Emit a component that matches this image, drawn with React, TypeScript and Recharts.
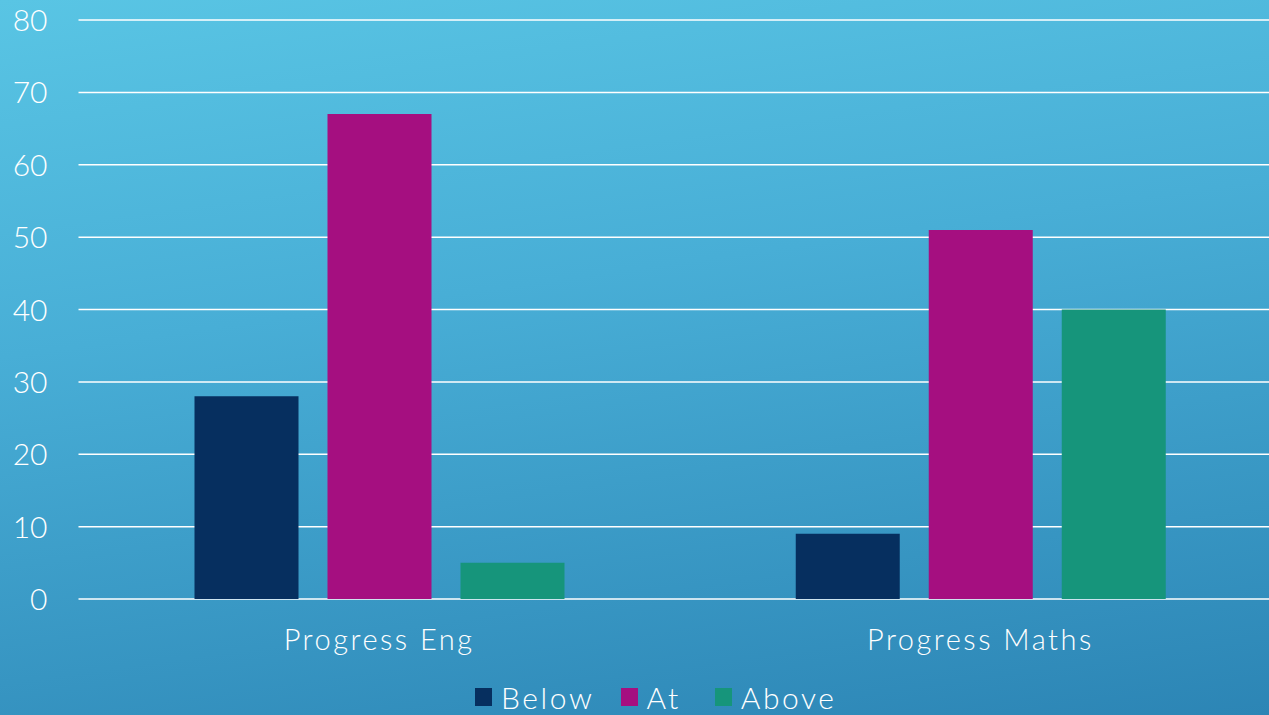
import React from 'react';
import { BarChart, Bar, XAxis, YAxis, CartesianGrid, Legend } from 'recharts';

const categories = ['Progress Eng', 'Progress Maths'];
const below = [28, 9];
const at = [67, 51];
const above = [5, 40];
const yTicks = [0, 10, 20, 30, 40, 50, 60, 70, 80];
const seriesNames = ['Below', 'At', 'Above'];

const data = categories.map((c, i) => ({ name: c, Below: below[i], At: at[i], Above: above[i] }));

const COLORS: Record<string, string> = { Below: '#062f5f', At: '#a50f80', Above: '#16957b' };
const FONT = 'Lato, "Open Sans", sans-serif';
const LEGEND_GAPS: Record<string, number> = { Below: 26, At: 34, Above: 0 };

const YTick = (props: any) => {
  const { x, y, payload } = props;
  return (
    <text x={x} y={y + 11} textAnchor="end" fill="#ffffff" fontSize={30} fontFamily={FONT} fontWeight={300}>
      {payload.value}
    </text>
  );
};

const XTick = (props: any) => {
  const { x, y, payload } = props;
  return (
    <text x={x} y={y + 51} textAnchor="middle" fill="#ffffff" fontSize={29} fontFamily={FONT} fontWeight={300} letterSpacing={2.5}>
      {payload.value}
    </text>
  );
};

const LegendContent = () => (
  <div style={{ height: 36, display: 'flex', justifyContent: 'flex-start', alignItems: 'center', fontFamily: FONT, fontWeight: 300, fontSize: 30, color: '#fff', width: 1269, paddingLeft: 475, boxSizing: 'border-box', letterSpacing: 2.6 }}>
    {seriesNames.map((n) => (
      <span key={n} style={{ display: 'inline-flex', alignItems: 'center', marginRight: LEGEND_GAPS[n] }}>
        <span style={{ width: 17, height: 18, background: COLORS[n], display: 'inline-block', marginRight: 9 }} />
        <span>{n}</span>
      </span>
    ))}
  </div>
);

export default function App() {
  return (
    <div style={{ position: 'absolute', left: 0, top: 0, width: 1269, height: 715, overflow: 'hidden', background: 'linear-gradient(172deg, #59c5e4 0%, #48aed6 40%, #2c85b5 100%)' }}>
      <BarChart width={1290} height={715} data={data} margin={{ top: 20, right: 9, left: 0, bottom: 0 }} barSize={104} barGap={29}>
        <CartesianGrid vertical={false} stroke="#ffffff" strokeWidth={1.5} />
        <XAxis dataKey="name" axisLine={false} tickLine={false} tickSize={0} tickMargin={0} height={80} tick={<XTick />} interval={0} />
        <YAxis domain={[0, 80]} ticks={yTicks} axisLine={false} tickLine={false} tickSize={0} tickMargin={31} width={78.5} tick={<YTick />} interval={0} />
        <Legend verticalAlign="bottom" content={<LegendContent />} wrapperStyle={{ left: 0, width: 1269, height: 36 }} />
        {seriesNames.map((n) => (
          <Bar key={n} dataKey={n} fill={COLORS[n]} isAnimationActive={false} />
        ))}
      </BarChart>
    </div>
  );
}
